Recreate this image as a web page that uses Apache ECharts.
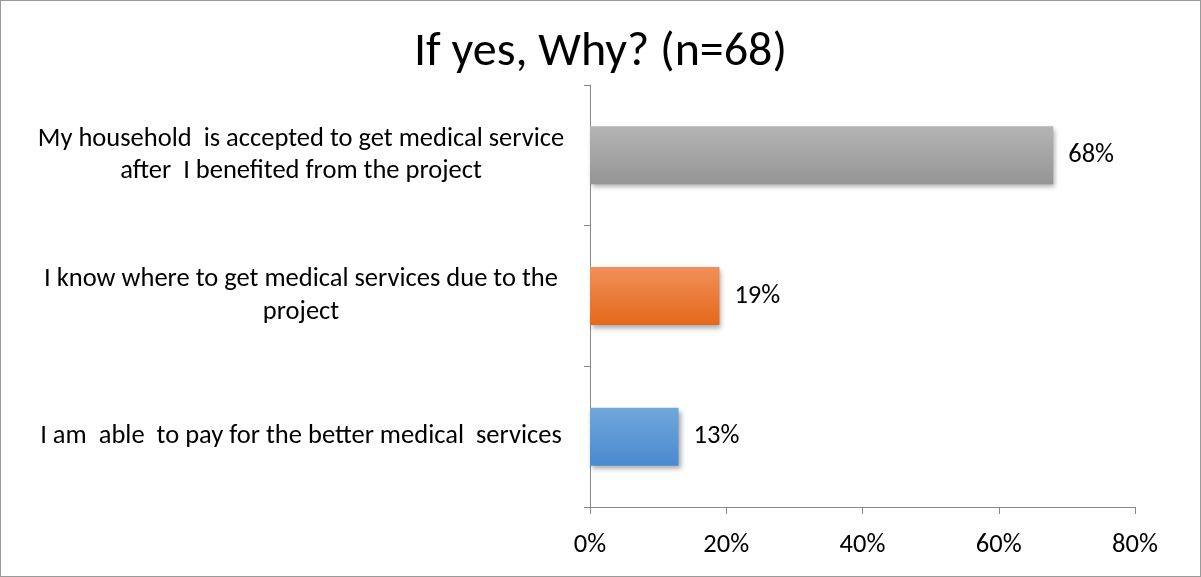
<!DOCTYPE html>
<html>
<head>
<meta charset="utf-8">
<script src="https://cdn.jsdelivr.net/npm/echarts@6/dist/echarts.min.js"></script>
<style>
  html, body { margin: 0; padding: 0; background: #fff; }
  #chart { width: 1201px; height: 577px; box-sizing: border-box; border: 1px solid #9a9a9a; }
</style>
</head>
<body>
<div id="chart"></div>
<script>
// Survey answers, top to bottom
const categories = [
  'My household  is accepted to get medical service\nafter  I benefited from the project',
  'I know where to get medical services due to the\nproject',
  'I am  able  to pay for the better medical  services'
];
// Share of respondents (fraction)
const shares = [0.68, 0.19, 0.13];
// Bar fills: [top, bottom] of each vertical gradient
const barFills = [
  ['#b4b4b4', '#959595'],
  ['#f0905a', '#e5691a'],
  ['#72a7dc', '#4a8ad0']
];
const xTicks = { min: 0, max: 0.8, interval: 0.2 };
const titleText = 'If yes, Why? (n=68)';

const FONT = 'Carlito, Calibri, Lato, sans-serif';
const chart = echarts.init(document.getElementById('chart'), null, { renderer: 'canvas' });

chart.setOption({
  backgroundColor: '#fff',
  animation: false,
  title: {
    text: titleText,
    left: 'center',
    top: 23,
    textStyle: { fontFamily: FONT, fontSize: 48, fontWeight: 'normal', color: '#000' }
  },
  grid: { left: 589, right: 65, top: 84, bottom: 69 },
  xAxis: {
    type: 'value',
    min: xTicks.min,
    max: xTicks.max,
    interval: xTicks.interval,
    axisLine: { show: true, lineStyle: { color: '#888', width: 1 } },
    axisTick: { show: true, length: 7, lineStyle: { color: '#888' } },
    splitLine: { show: false },
    axisLabel: {
      margin: 25,
      fontFamily: FONT,
      fontSize: 26.5,
      color: '#000',
      formatter: v => Math.round(v * 100) + '%'
    }
  },
  yAxis: {
    type: 'category',
    inverse: true,
    data: categories,
    axisLine: { show: true, lineStyle: { color: '#888', width: 1 } },
    axisTick: { show: true, length: 6, alignWithLabel: false, lineStyle: { color: '#888' } },
    axisLabel: {
      margin: 289,
      align: 'center',
      fontFamily: FONT,
      fontSize: 26.5,
      lineHeight: 32.5,
      padding: [6, 0, 0, 0],
      color: '#000'
    }
  },
  series: [{
    type: 'bar',
    barWidth: 58,
    data: shares.map((v, i) => ({
      value: v,
      itemStyle: {
        color: new echarts.graphic.LinearGradient(0, 0, 0, 1, [
          { offset: 0, color: barFills[i][0] },
          { offset: 1, color: barFills[i][1] }
        ]),
        shadowColor: 'rgba(0,0,0,0.35)',
        shadowBlur: 5,
        shadowOffsetX: 2,
        shadowOffsetY: 3
      }
    })),
    label: {
      show: true,
      position: 'right',
      distance: 15,
      padding: [8, 0, 0, 0],
      fontFamily: FONT,
      fontSize: 26.5,
      color: '#000',
      formatter: p => Math.round(p.value * 100) + '%'
    }
  }]
});
</script>
</body>
</html>
